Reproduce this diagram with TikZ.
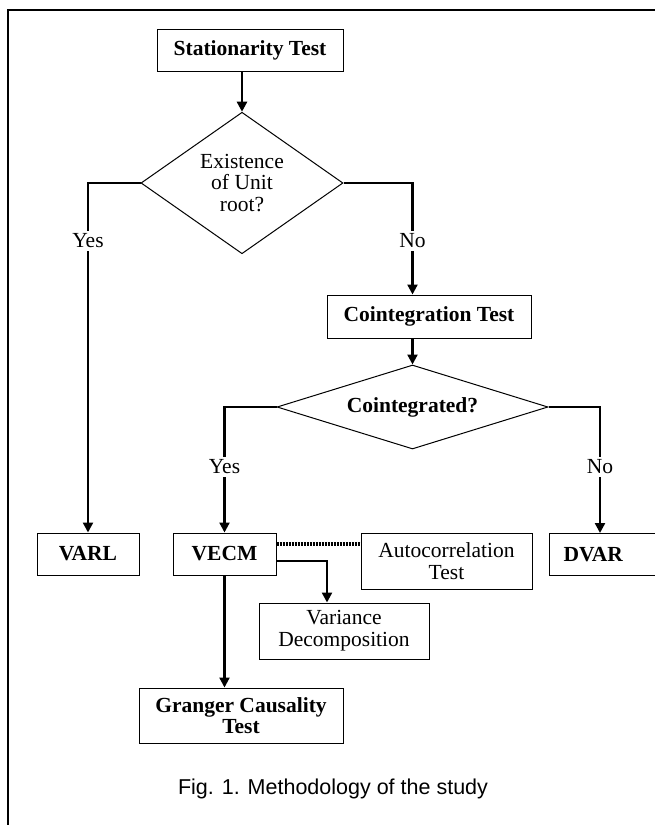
\documentclass[tikz,border=0pt]{standalone}
\usepackage{fontspec}
\setmainfont{Liberation Serif}
\newfontfamily\capfont{Liberation Sans}
\usetikzlibrary{shapes.geometric,arrows.meta,calc}
\begin{document}
\begin{tikzpicture}[x=1pt,y=-1pt,
  box/.style={draw,line width=1pt,inner sep=0pt,align=center,font=\fontsize{21.5}{21.7}\selectfont},
  bbox/.style={box,font=\fontsize{21.5}{21.7}\selectfont\bfseries},
  dec/.style={draw,diamond,line width=1pt,inner sep=0pt,align=center,font=\fontsize{21.5}{21.7}\selectfont},
  lbl/.style={inner sep=3pt,font=\fontsize{21.5}{21.7}\selectfont},
  conn/.style={line width=2.8pt},
  arr/.style={line width=2.3pt,-{Triangle[length=10pt,width=10pt]}},
  dots/.style={line width=3.2pt,dash pattern=on 2pt off 1pt}]
\useasboundingbox (0,0) rectangle (655,825);
\clip (0,0) rectangle (655,825);
% frame
\coordinate (fa) at (655,10);
\coordinate (fb) at (8,10);
\coordinate (fc) at (8,825);
\draw[line width=1.6pt] (fa) -- (fb) -- (fc);
% nodes
\node[bbox,minimum width=186,minimum height=42] (st) at (250,50) {Stationarity Test};
\node[dec,minimum width=202,minimum height=139] (d1) at (242,183) {Existence\\of Unit\\root?};
\node[lbl] (yes1) at (88,241) {Yes};
\node[lbl] (no1) at (412.5,241) {No};
\node[bbox,minimum width=204,minimum height=43] (ct) at (429,316.5) {Cointegration Test};
\node[dec,aspect=3.2,minimum width=271,minimum height=84,font=\fontsize{21.5}{21.7}\selectfont\bfseries] (d2) at (412.5,407) {Cointegrated?};
\node[lbl] (yes2) at (224.5,467) {Yes};
\node[lbl] (no2) at (600,467) {No};
\node[bbox,minimum width=102,minimum height=42] (varl) at (88,554) {VARL};
\node[bbox,minimum width=103,minimum height=42] (vecm) at (224.5,554) {VECM};
\node[box,minimum width=171,minimum height=56] (auto) at (446.5,561) {Autocorrelation\\Test};
\node[bbox,anchor=north west,text width=200,align=left,inner xsep=14pt,minimum height=42] (dvar) at (549,533) {DVAR};
\node[box,minimum width=170,minimum height=56] (var) at (344,631) {Variance\\Decomposition};
\node[bbox,minimum width=204,minimum height=55] (gc) at (241,715.5) {Granger Causality\\Test};
\node[font=\capfont\fontsize{21.5}{23}\selectfont,inner sep=0pt] (cap) at (333,789) {Fig. 1. Methodology of the study};
% connectors
\draw[arr] (d1.north |- st.south) -- (d1.north);
\draw[conn] (d1.west) -| (yes1.north);
\draw[conn] (d1.east) -| (no1.north);
\draw[arr] (yes1.south) -- (yes1.south |- varl.north);
\draw[arr] (no1.south) -- (no1.south |- ct.north);
\draw[arr] (d2.north |- ct.south) -- (d2.north);
\draw[conn] (d2.west) -| (yes2.north);
\draw[conn] (d2.east) -| (no2.north);
\draw[arr] (yes2.south) -- (yes2.south |- vecm.north);
\draw[arr] (no2.south) -- (no2.south |- dvar.north);
\draw[dots] ([yshift=10pt]vecm.east) -- ([yshift=10pt]vecm.east -| auto.west);
\draw[arr] ([yshift=-7pt]vecm.east) -| ([xshift=-17pt]var.north);
\draw[arr] (vecm.south) -- (vecm.south |- gc.north);
\end{tikzpicture}
\end{document}
